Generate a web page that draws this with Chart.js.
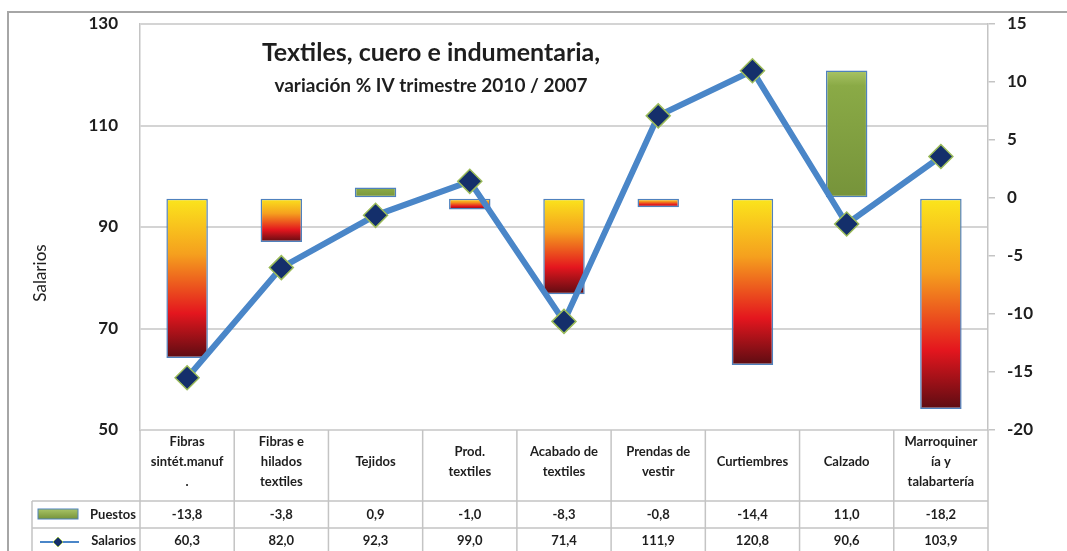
<!DOCTYPE html>
<html>
<head>
<meta charset="utf-8">
<script src="https://cdn.jsdelivr.net/npm/chart.js@4"></script>
<style>
  body { margin: 0; background: #fff; }
  #wrap { width: 1067px; height: 551px; position: relative; }
</style>
</head>
<body>
<div id="wrap"><canvas id="chart"></canvas></div>
<script>
// ==================== Data ====================
const categories = [
    ['Fibras', 'sintét.manuf', '.'],
    ['Fibras e', 'hilados', 'textiles'],
    'Tejidos',
    ['Prod.', 'textiles'],
    ['Acabado de', 'textiles'],
    ['Prendas de', 'vestir'],
    'Curtiembres',
    'Calzado',
    ['Marroquiner', 'ía y', 'talabartería']
];
const puestos = [-13.8, -3.8, 0.9, -1.0, -8.3, -0.8, -14.4, 11.0, -18.2];
const salarios = [60.3, 82.0, 92.3, 99.0, 71.4, 111.9, 120.8, 90.6, 103.9];
const salariosTicks = [50, 70, 90, 110, 130];
const puestosTicks = [-20, -15, -10, -5, 0, 5, 10, 15];

const FONT = 'Lato, "Open Sans", sans-serif';
const GRID = '#d4d4d4';
const TEXT = '#1e1e1e';

function fmt(v) {
    return v.toFixed(1).replace('.', ',');
}

// ajusta el tamaño de fuente para ocupar un ancho dado
function fitFont(ctx, text, width, maxSize) {
    ctx.font = 'bold 20px ' + FONT;
    const size = Math.min(maxSize, 20 * width / ctx.measureText(text).width);
    ctx.font = 'bold ' + size.toFixed(1) + 'px ' + FONT;
}

// gradiente por barra: amarillo -> rojo oscuro (negativas), verde (positivas)
function puestosFill(context) {
    const chart = context.chart;
    const ys = chart.scales.y2;
    const v = context.raw;
    if (!chart.chartArea || !ys || typeof v !== 'number') return '#9bbb59';
    const y0 = ys.getPixelForValue(0);
    const y1 = ys.getPixelForValue(v);
    const g = chart.ctx.createLinearGradient(0, Math.min(y0, y1), 0, Math.max(y0, y1) + 0.01);
    if (v >= 0) {
        g.addColorStop(0, '#a9c466');
        g.addColorStop(0.12, '#8aaa46');
        g.addColorStop(1, '#76933a');
    } else {
        g.addColorStop(0, '#fbe61c');
        g.addColorStop(0.35, '#f5a01e');
        g.addColorStop(0.72, '#e4161e');
        g.addColorStop(1, '#5c0c12');
    }
    return g;
}

// ==================== Plugin: frame, title, table ====================
const extras = {
    id: 'extras',
    afterDraw(chart) {
        const ctx = chart.ctx;
        const area = chart.chartArea;
        const xs = chart.scales.x;
        const H = chart.height;
        ctx.save();

        // marco exterior
        ctx.strokeStyle = '#a6a6a6';
        ctx.lineWidth = 2;
        ctx.beginPath();
        ctx.moveTo(8, H);
        ctx.lineTo(8, 12);
        ctx.lineTo(chart.width, 12);
        ctx.stroke();

        // titulo
        ctx.fillStyle = TEXT;
        ctx.textAlign = 'center';
        ctx.textBaseline = 'middle';
        fitFont(ctx, 'Textiles, cuero e indumentaria,', 360, 25);
        ctx.fillText('Textiles, cuero e indumentaria,', 431, 53);
        fitFont(ctx, 'variación % IV trimestre 2010 / 2007', 362, 19);
        ctx.fillText('variación % IV trimestre 2010 / 2007', 431, 86);

        // titulo eje
        ctx.save();
        ctx.translate(41, 273);
        ctx.rotate(-Math.PI / 2);
        ctx.font = '17px ' + FONT;
        ctx.fillText('Salarios', 0, 0);
        ctx.restore();

        // tabla de datos
        const rowTop = 501, rowMid = 528;
        const step = (area.right - area.left) / categories.length;
        ctx.strokeStyle = '#c4c4c4';
        ctx.lineWidth = 1.5;
        ctx.beginPath();
        for (let i = 0; i <= categories.length; i++) {
            const x = area.left + i * step;
            ctx.moveTo(x, area.bottom);
            ctx.lineTo(x, H);
        }
        ctx.moveTo(32, rowTop); ctx.lineTo(area.right, rowTop);
        ctx.moveTo(32, rowMid); ctx.lineTo(area.right, rowMid);
        ctx.moveTo(32, rowTop); ctx.lineTo(32, H);
        ctx.stroke();

        ctx.font = 'bold 13px ' + FONT;
        ctx.fillStyle = TEXT;
        puestos.forEach((v, i) => {
            ctx.fillText(fmt(v), xs.getPixelForValue(i), 515);
        });
        salarios.forEach((v, i) => {
            ctx.fillText(fmt(v), xs.getPixelForValue(i), 541);
        });

        // leyenda en la tabla
        const lg = ctx.createLinearGradient(0, 509, 0, 519);
        lg.addColorStop(0, '#a9c466');
        lg.addColorStop(1, '#76933a');
        ctx.fillStyle = lg;
        ctx.fillRect(38, 509, 40, 10);
        ctx.strokeStyle = '#4f81bd';
        ctx.lineWidth = 1;
        ctx.strokeRect(38, 509, 40, 10);

        ctx.strokeStyle = '#4a86c8';
        ctx.lineWidth = 2;
        ctx.beginPath();
        ctx.moveTo(40, 542);
        ctx.lineTo(79, 542);
        ctx.stroke();
        ctx.fillStyle = '#142f6b';
        ctx.strokeStyle = '#9bbb59';
        ctx.lineWidth = 1;
        ctx.beginPath();
        ctx.moveTo(58, 537); ctx.lineTo(63, 542); ctx.lineTo(58, 547); ctx.lineTo(53, 542);
        ctx.closePath();
        ctx.fill();
        ctx.stroke();

        ctx.fillStyle = TEXT;
        ctx.textAlign = 'right';
        ctx.fillText('Puestos', 136, 515);
        ctx.fillText('Salarios', 136, 541);

        ctx.restore();
    }
};

// ==================== Chart ====================
const ctx = document.getElementById('chart').getContext('2d');
new Chart(ctx, {
    type: 'bar',
    data: {
        labels: categories,
        datasets: [
            {
                type: 'line',
                label: 'Salarios',
                data: salarios,
                yAxisID: 'y',
                order: 0,
                borderColor: '#4a86c8',
                borderWidth: 6,
                tension: 0,
                pointStyle: 'rectRot',
                pointRadius: 12,
                pointBackgroundColor: '#142f6b',
                pointBorderColor: '#9bbb59',
                pointBorderWidth: 1.5,
                fill: false
            },
            {
                type: 'bar',
                label: 'Puestos',
                data: puestos,
                yAxisID: 'y2',
                order: 1,
                backgroundColor: puestosFill,
                borderColor: '#4f81bd',
                borderWidth: 1.5,
                borderSkipped: false,
                barPercentage: 0.44,
                categoryPercentage: 1
            }
        ]
    },
    options: {
        responsive: true,
        maintainAspectRatio: false,
        animation: false,
        layout: { padding: { top: 24, left: 0, right: 0, bottom: 0 } },
        plugins: {
            legend: { display: false },
            tooltip: { enabled: false }
        },
        scales: {
            x: {
                offset: true,
                grid: { display: false },
                border: { display: false },
                ticks: {
                    color: TEXT,
                    font: { family: FONT, size: 13, weight: 'bold', lineHeight: 1.55 },
                    padding: 4,
                    crossAlign: 'center',
                    maxRotation: 0,
                    autoSkip: false
                },
                afterFit: s => { s.height = 121; }
            },
            y: {
                position: 'left',
                min: salariosTicks[0],
                max: salariosTicks[salariosTicks.length - 1],
                afterBuildTicks: s => { s.ticks = salariosTicks.map(v => ({ value: v })); },
                grid: { color: GRID, lineWidth: 2, drawTicks: true, tickLength: 20, tickColor: 'rgba(0,0,0,0)' },
                border: { color: '#c4c4c4', width: 1.5 },
                ticks: {
                    color: TEXT,
                    font: { family: FONT, size: 17, weight: 'bold' },
                    padding: 2
                },
                afterFit: s => { s.width = 140; }
            },
            y2: {
                position: 'right',
                min: puestosTicks[0],
                max: puestosTicks[puestosTicks.length - 1],
                afterBuildTicks: s => { s.ticks = puestosTicks.map(v => ({ value: v })); },
                grid: { drawOnChartArea: false, color: '#c4c4c4', tickLength: 7, lineWidth: 1.5 },
                border: { color: '#c4c4c4', width: 1.5 },
                ticks: {
                    color: TEXT,
                    font: { family: FONT, size: 17, weight: 'bold' },
                    padding: 12
                },
                afterFit: s => { s.width = 79; }
            }
        }
    },
    plugins: [extras]
});
</script>
</body>
</html>
